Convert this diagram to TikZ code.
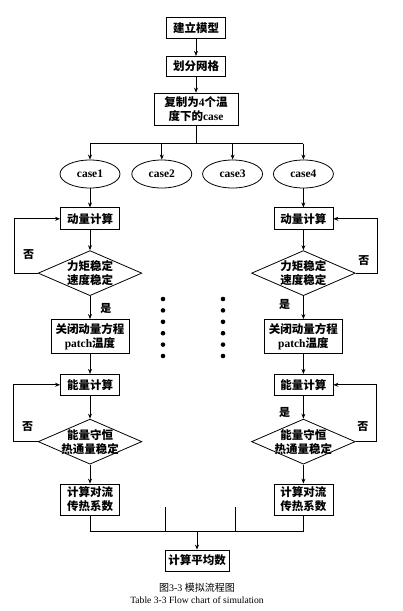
\documentclass[tikz,border=0pt]{standalone}
\usepackage{fontspec}
\setmainfont{Liberation Serif}
\newfontfamily\cjk{Noto Sans CJK SC}
\usepackage{tikz}
\usetikzlibrary{positioning,arrows.meta}
\usetikzlibrary{shapes.geometric}
\tikzset{
  blk/.style={draw,minimum width=59pt,minimum height=21pt,inner sep=2pt,align=center,
    font=\bfseries\fontsize{11.5}{14}\selectfont},
  dec/.style={draw,diamond,aspect=2.3,inner sep=0pt,align=center,
    font=\bfseries\fontsize{11.5}{14}\selectfont},
  cs/.style={draw,ellipse,minimum width=60pt,minimum height=28pt,inner sep=0pt,
    font=\bfseries\fontsize{11.5}{13}\selectfont},
  lbl/.style={inner sep=1pt,font=\cjk\bfseries\fontsize{11}{13}\selectfont}
}
\newcommand{\zh}[1]{{\cjk #1}}

\begin{document}
\begin{tikzpicture}[x=1pt,y=-1pt,line width=0.8pt,>={Stealth[length=5pt,width=4pt]}]
  \useasboundingbox (0,0) rectangle (402,611);
  % trunk
  \node[blk] (mx) at (196,28) {\zh{建立模型}};
  \node[blk,minimum height=20pt,below=17pt of mx] (wg) {\zh{划分网格}};
  \node[blk,minimum width=84pt,minimum height=32pt,below=16pt of wg] (fz) {\zh{复制为}4\zh{个温}\\\zh{度下的}case};
  \node[cs] (c1) at (90,174) {case1};
  \node[cs,right=11pt of c1] (c2) {case2};
  \node[cs,right=10pt of c2] (c3) {case3};
  \node[cs,right=10pt of c3] (c4) {case4};
  % left column
  \node[blk,minimum height=22pt,below=19pt of c1] (dl1) {\zh{动量计算}};
  \node[dec,below=20pt of dl1] (pd1) {\zh{力矩稳定}\\\zh{速度稳定}};
  \node[blk,minimum width=78pt,minimum height=34pt,below=23pt of pd1] (gb1) {\zh{关闭动量方程}\\patch\zh{温度}};
  \node[blk,below=20pt of gb1] (nl1) {\zh{能量计算}};
  \node[dec,below=23pt of nl1] (sh1) {\zh{能量守恒}\\\makebox[46pt]{\zh{热通量稳定}}};
  \node[blk,minimum height=31pt,below=19pt of sh1] (js1) {\zh{计算对流}\\\zh{传热系数}};
  % right column
  \node[blk,minimum height=22pt,below=19pt of c4] (dl4) {\zh{动量计算}};
  \node[dec,below=20pt of dl4] (pd4) {\zh{力矩稳定}\\\zh{速度稳定}};
  \node[blk,minimum width=78pt,minimum height=34pt,below=23pt of pd4] (gb4) {\zh{关闭动量方程}\\patch\zh{温度}};
  \node[blk,below=20pt of gb4] (nl4) {\zh{能量计算}};
  \node[dec,below=23pt of nl4] (sh4) {\zh{能量守恒}\\\makebox[46pt]{\zh{热通量稳定}}};
  \node[blk,minimum height=31pt,below=19pt of sh4] (js4) {\zh{计算对流}\\\zh{传热系数}};
  \node[blk,minimum width=64pt] (pj) at (197,560.5) {\zh{计算平均数}};
  \coordinate (s2) at (165,507);
  \coordinate (s3) at (235,507);
  % connectors
  \draw[->] (mx) -- (wg);
  \draw[->] (wg) -- (fz);
  \draw (fz.south) -- ++(0,18) coordinate (fb);
  \draw (fb -| c1) -- (fb -| c4);
  \draw[->] (fb -| c1) -- (c1);
  \draw[->] (fb -| c2) -- (c2);
  \draw[->] (fb -| c3) -- (c3);
  \draw[->] (fb -| c4) -- (c4);
  \draw[->] (c1) -- (dl1);
  \draw[->] (dl1) -- (pd1);
  \draw[->] (pd1) -- node[lbl,right=9pt,pos=0.55] {是} (gb1);
  \draw[->] (gb1) -- (nl1);
  \draw[->] (nl1) -- (sh1);
  \draw[->] (sh1) -- (js1);
  \draw[->] (pd1.west) -- ++(-23,0) |- node[lbl,pos=0.17,right=7pt] {否} (dl1.west);
  \draw[->] (sh1.west) -- ++(-24,0) |- node[lbl,pos=0.13,right=7pt] {否} (nl1.west);
  \draw[->] (c4) -- (dl4);
  \draw[->] (dl4) -- (pd4);
  \draw[->] (pd4) -- node[lbl,left=12pt,pos=0.35] {是} (gb4);
  \draw[->] (gb4) -- (nl4);
  \draw[->] (nl4) -- node[lbl,left=12pt,pos=0.72] {是} (sh4);
  \draw[->] (sh4) -- (js4);
  \draw[->] (pd4.east) -- ++(22,0) |- node[lbl,pos=0.12,left=7pt] {否} (dl4.east);
  \draw[->] (sh4.east) -- ++(21,0) |- node[lbl,pos=0.13,left=7pt] {否} (nl4.east);
  \draw (js1.south) -- ++(0,16) coordinate (ml) -- (ml -| js4) -- (js4.south);
  \draw (s2) -- (s2 |- ml);
  \draw (s3) -- (s3 |- ml);
  \draw[->] (ml -| pj) -- (pj);
  % dots
  \foreach \i in {0,...,5} {
    \fill (163,299+11.4*\i) circle[radius=2.3pt];
    \fill (223,299+11.4*\i) circle[radius=2.3pt];
  }
  % caption
  \node[font=\fontsize{10}{11}\selectfont] (cap1) at (197,588) {\zh{图}3-3\ \zh{模拟流程图}};
  \node[font=\fontsize{9.6}{10}\selectfont] (cap2) at (197,600) {Table 3-3 Flow chart of simulation};
\end{tikzpicture}
\end{document}
